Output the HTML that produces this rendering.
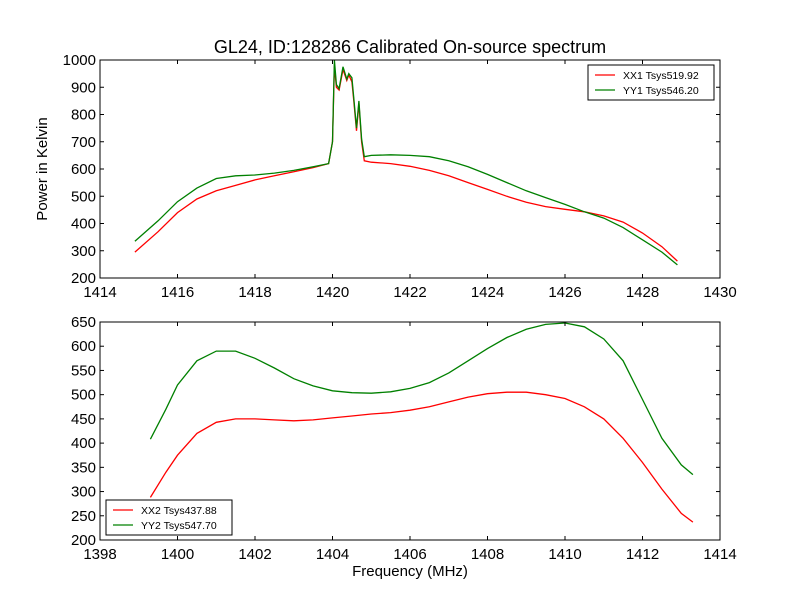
<!DOCTYPE html>
<html><head><meta charset="utf-8"><style>
body{margin:0;background:#fff;}
svg{display:block;font-family:"Liberation Sans",sans-serif;}
</style></head><body>
<svg id="c" width="800" height="600" viewBox="0 0 800 600">
<rect width="800" height="600" fill="#fff"/>
<text x="410" y="53" font-size="18" text-anchor="middle">GL24, ID:128286 Calibrated On-source spectrum</text>
<text x="47" y="169" font-size="15" text-anchor="middle" transform="rotate(-90 47 169)">Power in Kelvin</text>
<text x="410" y="576" font-size="15" text-anchor="middle">Frequency (MHz)</text>
</svg>
<script>
const topFreq=[1414.9,1415.5,1416,1416.5,1417,1417.5,1418,1418.5,1419,1419.5,1419.9,1420.0,1420.05,1420.1,1420.17,1420.27,1420.37,1420.42,1420.5,1420.55,1420.62,1420.68,1420.75,1420.82,1421,1421.5,1422,1422.5,1423,1423.5,1424,1424.5,1425,1425.5,1426,1426.5,1427,1427.5,1428,1428.5,1428.9];
const xx1=[295,370,440,490,520,540,560,575,590,605,620,700,980,900,890,965,925,945,920,850,740,840,700,630,625,620,610,595,575,550,525,500,478,462,452,443,428,405,365,315,262];
const yy1=[335,410,480,530,565,575,578,585,595,608,620,700,1000,910,895,975,930,950,935,860,750,850,710,645,650,652,650,645,630,608,580,550,520,495,470,443,420,385,340,295,248];
const botFreq=[1399.3,1399.7,1400,1400.5,1401,1401.5,1402,1402.5,1403,1403.5,1404,1404.5,1405,1405.5,1406,1406.5,1407,1407.5,1408,1408.5,1409,1409.5,1410,1410.5,1411,1411.5,1412,1412.5,1413,1413.3];
const xx2=[288,340,375,420,443,450,450,448,446,448,452,456,460,463,468,475,485,495,502,505,505,500,492,475,450,410,360,305,255,237];
const yy2=[408,470,520,570,590,590,575,555,533,518,508,504,503,506,513,525,545,570,595,618,635,645,648,640,615,570,490,410,355,335];
const topXTicks=[1414,1416,1418,1420,1422,1424,1426,1428,1430];
const topYTicks=[200,300,400,500,600,700,800,900,1000];
const botXTicks=[1398,1400,1402,1404,1406,1408,1410,1412,1414];
const botYTicks=[200,250,300,350,400,450,500,550,600,650];
const NS='http://www.w3.org/2000/svg';
const svg=document.getElementById('c');
function mk(t,a){const e=document.createElementNS(NS,t);for(const k in a)e.setAttribute(k,a[k]);svg.appendChild(e);return e;}
function panel(p,xt,yt,series,legendPos,nm){
  const L=100,R=720;
  const sx=v=>L+(v-p.x0)/(p.x1-p.x0)*(R-L);
  const sy=v=>p.b-(v-p.y0)/(p.y1-p.y0)*(p.b-p.t);
  series.forEach(s=>{
    const d=s.f.map((f,i)=>(i?'L':'M')+sx(f).toFixed(1)+','+sy(s.v[i]).toFixed(1)).join('');
    const e=mk('path',{d:d,fill:'none',stroke:s.c,'stroke-width':1.3});
    
    
  });
  const fr=mk('rect',{x:L,y:p.t,width:R-L,height:p.b-p.t,fill:'none',stroke:'#000','stroke-width':1});
  
  
  xt.forEach(v=>{
    const x=sx(v);
    mk('line',{x1:x,x2:x,y1:p.b,y2:p.b-4,stroke:'#000'});
    mk('line',{x1:x,x2:x,y1:p.t,y2:p.t+4,stroke:'#000'});
    const t=mk('text',{x:x,y:p.b+19,'font-size':15,'text-anchor':'middle'});t.textContent=v;
    
    
  });
  yt.forEach(v=>{
    const y=sy(v);
    mk('line',{x1:L,x2:L+4,y1:y,y2:y,stroke:'#000'});
    mk('line',{x1:R,x2:R-4,y1:y,y2:y,stroke:'#000'});
    const t=mk('text',{x:L-4,y:y+5,'font-size':15,'text-anchor':'end'});t.textContent=v;
    
    
  });
  const lg=mk('rect',{x:legendPos.x,y:legendPos.y,width:126,height:35,fill:'#fff',stroke:'#000'});
  
  
  series.forEach((s,i)=>{
    const y=legendPos.y+10+i*15;
    mk('line',{x1:legendPos.x+7,x2:legendPos.x+27,y1:y,y2:y,stroke:s.c,'stroke-width':1.3});
    const t=mk('text',{x:legendPos.x+35,y:y+4,'font-size':10.5});t.textContent=s.label;
    
    
  });
}
panel({x0:1414,x1:1430,y0:200,y1:1000,t:60,b:278},topXTicks,topYTicks,
 [{f:topFreq,v:xx1,c:'#ff0000',name:'xx1',label:'XX1 Tsys519.92'},{f:topFreq,v:yy1,c:'#008000',name:'yy1',label:'YY1 Tsys546.20'}],{x:588,y:65},'top');
panel({x0:1398,x1:1414,y0:200,y1:650,t:322,b:540},botXTicks,botYTicks,
 [{f:botFreq,v:xx2,c:'#ff0000',name:'xx2',label:'XX2 Tsys437.88'},{f:botFreq,v:yy2,c:'#008000',name:'yy2',label:'YY2 Tsys547.70'}],{x:106,y:500},'bottom');
</script>
</body></html>
